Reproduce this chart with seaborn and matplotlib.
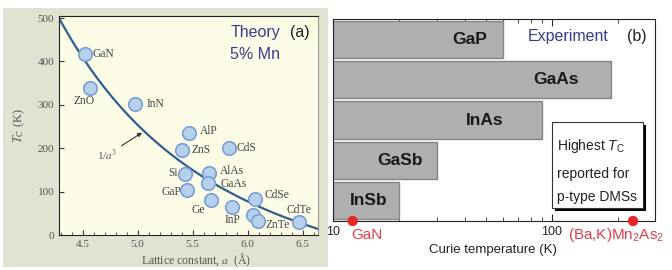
import numpy as np
import matplotlib
matplotlib.use("Agg")
import matplotlib.pyplot as plt
import seaborn as sns
from matplotlib.patches import Rectangle
from matplotlib.ticker import LogLocator, NullFormatter, MultipleLocator

# (a) Theory, 5% Mn: Curie temperature vs lattice constant
materials = ["GaN", "ZnO", "InN", "AlP", "ZnS", "CdS", "Si", "AlAs", "GaAs",
             "GaP", "Ge", "InP", "CdSe", "", "ZnTe", "CdTe"]
lattice = [4.52, 4.57, 4.98, 5.47, 5.40, 5.83, 5.43, 5.65, 5.64,
           5.45, 5.67, 5.86, 6.07, 6.05, 6.09, 6.47]
tc_theory = [417, 338, 302, 235, 196, 200, 141, 144, 120,
             104, 80, 65, 82, 47, 33, 30]

# 1/a^3 guide curve: T = A / a^3 - B
curve_A = 52290
curve_B = 164.6

# (b) Experiment: highest Tc reported for p-type DMSs
dms = ["GaP", "GaAs", "InAs", "GaSb", "InSb"]
tc_exp = [60, 187, 90, 30, 20]
red_names = ["GaN", "(Ba,K)Mn$_2$As$_2$"]
red_tc = [12.3, 235]

# label placement (pixels / data x), layout only
label_offsets = [(8, 0, "left"), (-6, -13, "center"), (11, 0, "left"), (11, 2, "left"),
                 (10, 0, "left"), (8, 0, "left"), (-7, 1, "right"), (11, 2, "left"),
                 (12, -1, "left"), (-6, -2, "right"), (-6, -10, "right"), (0, -13, "center"),
                 (9, 4, "left"), (0, 0, "left"), (8, -4, "left"), (0, 12, "center")]
bar_label_x = [50.6, 133, 60.4, 25.7, 17.8]

sns.set_style("ticks")
plt.rcParams["font.family"] = ["Liberation Sans", "DejaVu Sans"]
plt.rcParams["mathtext.fontset"] = "custom"
plt.rcParams["mathtext.rm"] = "Liberation Sans"
plt.rcParams["mathtext.it"] = "Liberation Sans:italic"

fig = plt.figure(figsize=(6.72, 2.7), dpi=100)
fig.patches.append(Rectangle((0.0045, 0.011), 0.484, 0.959, transform=fig.transFigure,
                             facecolor="#e2e2d2", edgecolor="none", zorder=-10))

serif = "Liberation Serif"

# ---------- panel (a) ----------
ax = fig.add_axes([0.0878, 0.1296, 0.3854, 0.8115])
ax.set_facecolor("#fdfce6")
a_curve = np.linspace(4.285, 6.64, 200)
sns.lineplot(x=a_curve, y=curve_A / a_curve**3 - curve_B, color="#2f5f8f", lw=1.6, ax=ax)
sns.scatterplot(x=lattice, y=tc_theory, s=95, color="#b7d0ee", edgecolor="#7a9fd4",
                linewidth=1.2, zorder=4, ax=ax)
for name, x, y, (dx, dy, ha) in zip(materials, lattice, tc_theory, label_offsets):
    if name:
        ax.annotate(name, (x, y), xytext=(dx, dy), textcoords="offset pixels",
                    ha=ha, va="center", fontsize=8.3, color="#444444", family=serif)
ax.annotate("1/$a^3$", xy=(5.04, 236), xytext=(4.72, 184), ha="center", va="center",
            fontsize=8, color="#555555", family=serif, math_fontfamily="stix",
            arrowprops=dict(arrowstyle="-|>", color="#333333", lw=0.8, mutation_scale=6,
                            shrinkA=1, shrinkB=0))
ax.set_xlim(4.285, 6.64)
ax.set_ylim(0, 505)
ax.xaxis.set_major_locator(MultipleLocator(0.5))
ax.xaxis.set_minor_locator(MultipleLocator(0.1))
ax.yaxis.set_major_locator(MultipleLocator(100))
ax.tick_params(which="both", direction="in", labelsize=8, labelcolor="#555555", color="#333333")
ax.tick_params(which="minor", length=2.5)
ax.set_xticks([4.5, 5.0, 5.5, 6.0, 6.5])
ax.set_xticklabels(["4.5", "5.0", "5.5", "6.0", "6.5"], family=serif)
ax.set_yticks([0, 100, 200, 300, 400, 500])
ax.set_yticklabels(["0", "100", "200", "300", "400", "500"], family=serif)
ax.set_xlabel("Lattice constant, $a$  (Å)", family=serif, math_fontfamily="stix",
              fontsize=8.5, color="#555555")
ax.set_ylabel("$T_{\\mathrm{C}}$ (K)", family=serif, math_fontfamily="stix",
              fontsize=9, color="#555555")
ax.xaxis.set_label_coords(0.529, -0.075)
ax.yaxis.set_label_coords(-0.125, 0.5)
for side in ["left", "bottom", "top"]:
    ax.spines[side].set_color("#222222")
ax.spines["right"].set_color("#9a9a90")
ax.text(0.757, 0.922, "Theory", transform=ax.transAxes, ha="center", va="center",
        fontsize=11.5, color="#3a3a96")
ax.text(0.757, 0.822, "5% Mn", transform=ax.transAxes, ha="center", va="center",
        fontsize=11.5, color="#3a3a96")
ax.text(0.931, 0.922, "(a)", transform=ax.transAxes, ha="center", va="center",
        fontsize=11.5, color="#222222")

# ---------- panel (b) ----------
ax2 = fig.add_axes([0.4955, 0.1815, 0.4792, 0.7481])
sns.barplot(x=tc_exp, y=dms, orient="h", color="#afafaf", saturation=1,
            edgecolor="#858585", linewidth=1, width=0.92, ax=ax2)
ax2.set_xscale("log")
ax2.set_xlim(10, 296)
ax2.set_ylim(4.5, -0.5)
for i, (name, lx) in enumerate(zip(dms, bar_label_x)):
    ax2.text(lx, i, name, ha="right", va="center", fontsize=12.5, fontweight="bold",
             color="#1a1a1a")
sns.scatterplot(x=red_tc, y=[4.5, 4.5], color="#e8262a", s=55, edgecolor="none",
                clip_on=False, zorder=6, ax=ax2)
for name, x in zip(red_names, [12.3, 120]):
    ax2.annotate(name, xy=(x, 0), xycoords=("data", "axes fraction"), xytext=(-1, -14),
                 textcoords="offset pixels", ha="left", va="center", fontsize=11,
                 color="#e0404a", annotation_clip=False)
ax2.set_xticks([10, 100])
ax2.set_xticklabels(["10", "100"])
ax2.xaxis.set_minor_locator(LogLocator(base=10, subs=range(2, 10)))
ax2.xaxis.set_minor_formatter(NullFormatter())
ax2.tick_params(axis="x", which="both", direction="in", top=True, labelsize=9,
                labelcolor="#222222")
ax2.tick_params(axis="x", which="major", length=5)
ax2.tick_params(axis="x", which="minor", length=3)
ax2.tick_params(axis="y", left=False, labelleft=False)
ax2.set_ylabel("")
ax2.set_xlabel("Curie temperature (K)", fontsize=9.5, color="#222222")
ax2.xaxis.set_label_coords(0.497, -0.115)
for side in ax2.spines:
    ax2.spines[side].set_color("#222222")

ax2.add_patch(Rectangle((0.689, 0.049), 0.283, 0.426, transform=ax2.transAxes,
                        facecolor="black", edgecolor="none", zorder=7))
ax2.add_patch(Rectangle((0.680, 0.064), 0.283, 0.426, transform=ax2.transAxes,
                        facecolor="white", edgecolor="#333333", lw=0.8, zorder=8))
box_lines = ["Highest $T_{\\mathrm{C}}$", "reported for", "p-type DMSs"]
for txt, y in zip(box_lines, [0.371, 0.233, 0.119]):
    ax2.text(0.695, y, txt, transform=ax2.transAxes, ha="left", va="center",
             fontsize=10, color="#222222", zorder=9)
ax2.text(0.730, 0.911, "Experiment", transform=ax2.transAxes, ha="center", va="center",
         fontsize=11.5, color="#3a3a8a")
ax2.text(0.944, 0.911, "(b)", transform=ax2.transAxes, ha="center", va="center",
         fontsize=11.5, color="#222222")

fig.savefig("out.png", dpi=100)
